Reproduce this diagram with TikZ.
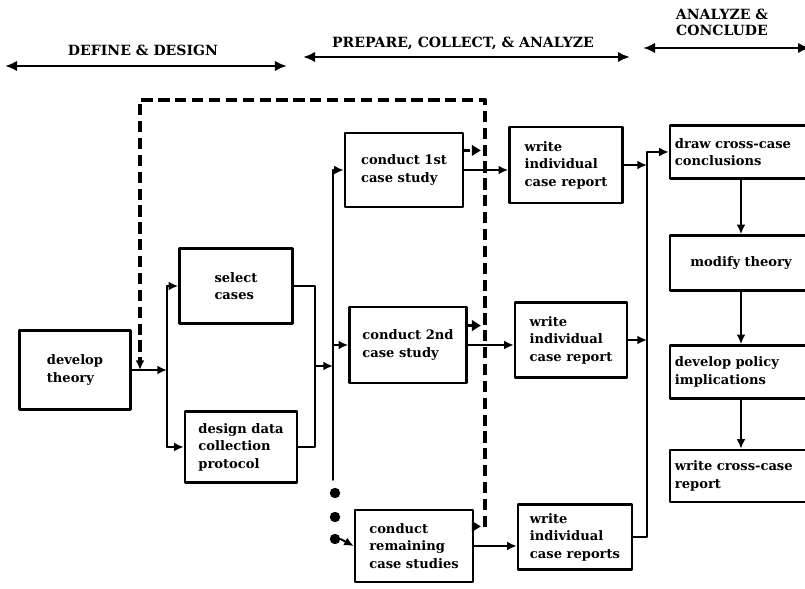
\documentclass[tikz,border=0pt]{standalone}
\usepackage{fontspec}
\setmainfont{DejaVu Serif}
\usepackage{tikz}
\usetikzlibrary{arrows.meta}

\begin{document}
\begin{tikzpicture}[
    x=0.025cm,
    y=-0.025cm,
    >={Latex[length=2.4mm,width=2.2mm]},
    line cap=round,
    line join=round,
    stage/.style={draw, line width=1.7pt, align=left, inner sep=3pt,
        font=\bfseries\fontsize{9.3}{12.5}\selectfont},
    rightbox/.style={stage, minimum width=3.55cm, text width=3.3cm},
    link/.style={line width=1.4pt},
    feedback/.style={line width=3pt, line cap=butt, dash pattern=on 8pt off 4pt},
    tick/.style={line width=2.6pt, line cap=butt, dash pattern=on 4pt off 2pt,
        shorten >=3pt, -{Triangle[length=2.2mm,width=2.6mm]}},
    seqdot/.style={circle, fill, inner sep=0pt, minimum size=2.6mm},
    phase/.style={align=center, font=\bfseries\fontsize{10}{11.5}\selectfont},
    phasearrow/.style={line width=1.8pt, {Latex[length=3mm,width=2.6mm]}-{Latex[length=3mm,width=2.6mm]}}
]

\useasboundingbox (0,0) rectangle (805,589);

\node[phase] (define) at (143,50) {DEFINE \& DESIGN};
\node[phase] (prepare) at (463,43) {PREPARE, COLLECT, \& ANALYZE};
\node[phase] (analyze) at (722,22) {ANALYZE \&\\CONCLUDE};

\coordinate (defineL) at (5,66);
\coordinate (defineR) at (287,66);
\coordinate (prepareL) at (303,57);
\coordinate (prepareR) at (630,57);
\coordinate (analyzeL) at (643,48);
\coordinate (analyzeR) at (810,48);

\draw[phasearrow] (defineL) -- (defineR);
\draw[phasearrow] (prepareL) -- (prepareR);
\draw[phasearrow] (analyzeL) -- (analyzeR);

\node[stage, minimum width=2.78cm, minimum height=1.98cm] (theory) at (75,370) {develop\\theory};
\node[stage, minimum width=2.83cm, minimum height=1.88cm] (select) at (236,286) {select\\cases};
\node[stage, minimum width=2.8cm, minimum height=1.78cm] (design) at (241,447) {design data\\collection\\protocol};

\node[stage, minimum width=2.95cm, minimum height=1.85cm] (study1) at (404,170) {conduct 1st\\case study};
\node[stage, minimum width=2.93cm, minimum height=1.9cm] (study2) at (408,345) {conduct 2nd\\case study};
\node[stage, minimum width=2.95cm, minimum height=1.8cm] (studyN) at (414,546) {conduct\\remaining\\case studies};

\node[stage, minimum width=2.83cm, minimum height=1.9cm] (report1) at (566,165) {write\\individual\\case report};
\node[stage, minimum width=2.8cm, minimum height=1.88cm] (report2) at (571,340) {write\\individual\\case report};
\node[stage, minimum width=2.85cm, minimum height=1.63cm] (reportN) at (575,537) {write\\individual\\case reports};

\node[rightbox, minimum height=1.33cm] (conclude) at (741,152) {draw cross-case\\conclusions};
\node[rightbox, minimum height=1.38cm, align=center] (modify) at (741,263) {modify theory};
\node[rightbox, minimum height=1.33cm] (policy) at (741,372) {develop policy\\implications};
\node[rightbox, minimum height=1.3cm] (crossrep) at (741,476) {write cross-case\\report};

\foreach \y [count=\i] in {493,517,539}
    \node[seqdot] (dot\i) at (335,\y) {};

\coordinate (split) at (167,370);
\coordinate (fbin) at (140,370);
\coordinate (join) at (315,366);
\coordinate (trunk) at (333,366);
\coordinate (trunktop) at (333,170);
\coordinate (trunkbot) at (333,480);
\coordinate (gather) at (647,340);
\coordinate (fbbot) at (485,527);
\coordinate (fbtop) at (485,100);
\coordinate (fbcorner) at (140,100);

\draw[link, ->] (theory.east) -- (split);
\draw[link] (split |- select.west) -- (split |- design.west);
\draw[link, ->] (split |- select.west) -- (select.west);
\draw[link, ->] (split |- design.west) -- (design.west);

\draw[link] (select.east) -| (join) |- (design.east);
\draw[link, ->] (join) -- (trunk);

\draw[link] (trunktop) -- (trunkbot);
\draw[link, ->] (trunktop) -- (study1.west);
\draw[link, ->] (trunk |- study2.west) -- (study2.west);
\draw[link, ->] (dot3.east) -- (studyN.west);

\draw[feedback, ->] (fbbot) -- (fbtop) -- (fbcorner) -- (fbin);
\draw[tick] (study1.18) -- (study1.18 -| fbbot);
\draw[tick] (study2.18) -- (study2.18 -| fbbot);
\draw[tick] (studyN.18) -- (studyN.18 -| fbbot);

\draw[link, ->] (study1.east) -- (study1.east -| report1.west);
\draw[link, ->] (study2.east) -- (study2.east -| report2.west);
\draw[link, ->] (studyN.east) -- (studyN.east -| reportN.west);

\draw[link, ->] (report1.east) -- (report1.east -| gather);
\draw[link, ->] (report2.east) -- (report2.east -| gather);
\draw[link, ->] (reportN.east) -| (gather) |- (conclude.west);

\draw[link, ->] (conclude) -- (modify);
\draw[link, ->] (modify) -- (policy);
\draw[link, ->] (policy) -- (crossrep);

\end{tikzpicture}
\end{document}
